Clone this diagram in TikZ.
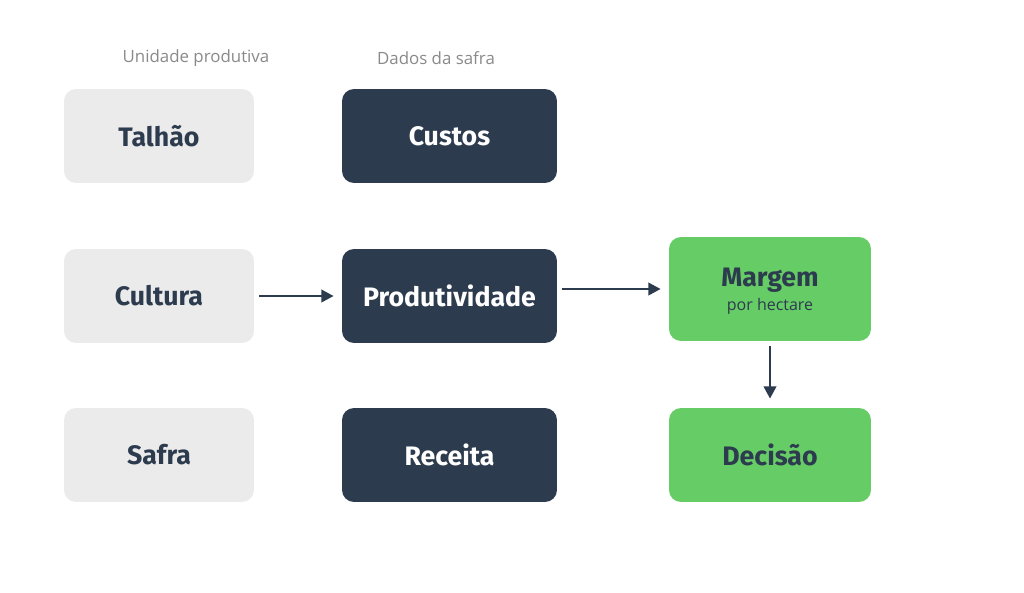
\documentclass[tikz,border=0pt]{standalone}
\usepackage{fontspec}
\setmainfont{Fira Sans}
\newfontfamily\labelfont{Open Sans}
\usetikzlibrary{arrows.meta}
\definecolor{lightbox}{HTML}{EBEBEB}
\definecolor{navy}{HTML}{2D3B4E}
\definecolor{greenbox}{HTML}{66CC66}
\definecolor{labelgray}{HTML}{8A8A8A}
\begin{document}
\begin{tikzpicture}[x=0.02cm,y=-0.02cm,
  box/.style={rounded corners=0.24cm, inner sep=0pt, font=\fontsize{15.2}{17}\selectfont\bfseries},
  leftbox/.style={box, fill=lightbox, text=navy, minimum width=3.8cm, minimum height=1.88cm},
  midbox/.style={box, fill=navy, text=white, minimum width=4.3cm, minimum height=1.88cm},
  grnbox/.style={box, fill=greenbox, text=navy, minimum width=4.04cm},
  hdr/.style={font=\labelfont\fontsize{9.6}{12}\selectfont, text=labelgray},
  sub/.style={font=\labelfont\fontsize{9.1}{11}\selectfont, text=navy},
  conn/.style={draw=navy, line width=1.6pt, -{Triangle[length=7pt,width=7pt]}}]
\useasboundingbox (0,0) rectangle (1024,592);
\fill[white] (0,0) rectangle (1024,592);
\node[hdr] (h1) at (196,58) {Unidade produtiva};
\node[hdr] (h2) at (436,58) {Dados da safra};
% boxes
\node[leftbox] (talhao) at (159,136) {Talhão};
\node[midbox] (custos) at (449.5,136) {Custos};
\node[leftbox] (cultura) at (159,296) {Cultura};
\node[midbox] (prod) at (449.5,296) {Produtividade};
\node[grnbox, minimum height=2.08cm] (margem) at (770,289) {};
\node[text=navy, font=\fontsize{15.2}{17}\selectfont\bfseries] (mtitle) at (770,280) {Margem};
\node[sub] (mlabel) at (770,306) {por hectare};
\node[leftbox] (safra) at (159,455) {Safra};
\node[midbox] (receita) at (449.5,455) {Receita};
\node[grnbox, minimum height=1.88cm] (decisao) at (770,455) {Decisão};
% connectors
\draw[conn, shorten <=0.1cm, shorten >=0.16cm] (cultura.east) -- (prod.west);
\draw[conn, shorten <=0.1cm, shorten >=0.16cm] (prod.east |- margem.west) -- (margem.west);
\draw[conn, shorten <=0.1cm, shorten >=0.18cm] (margem.south) -- (decisao.north);
\end{tikzpicture}
\end{document}
